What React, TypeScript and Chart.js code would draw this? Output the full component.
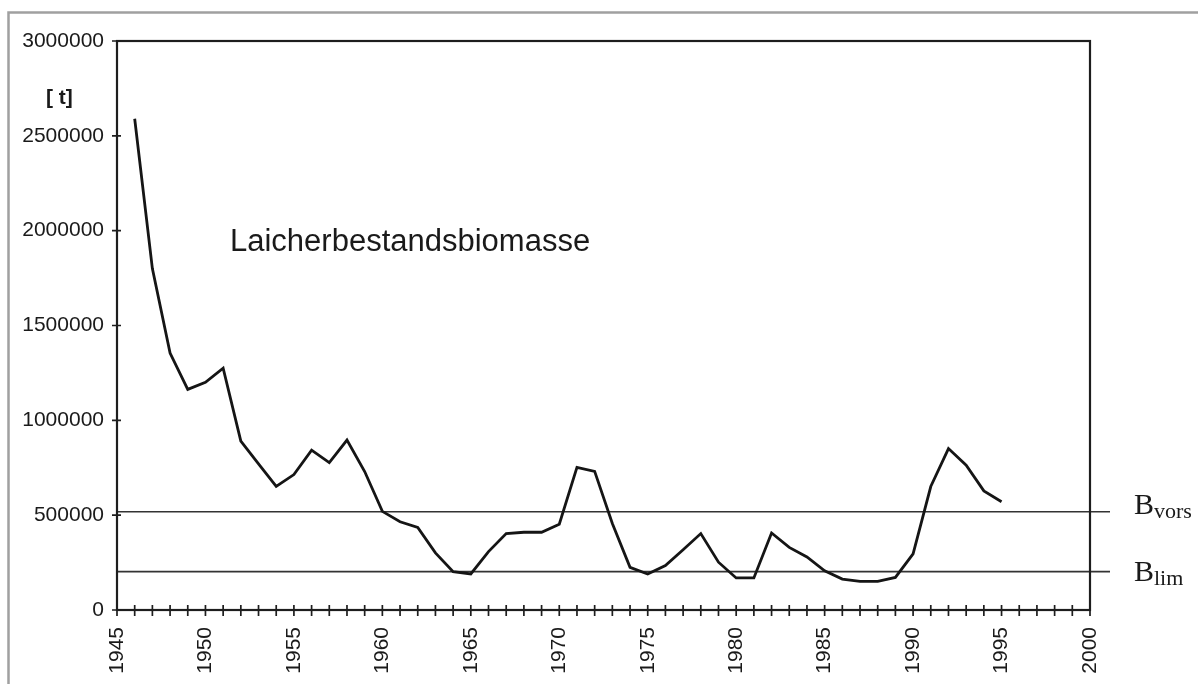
import React, { useEffect, useRef } from "react";
import { Chart, registerables } from "chart.js";

Chart.register(...registerables);

const years: number[] = [
  1946, 1947, 1948, 1949, 1950, 1951, 1952, 1953, 1954, 1955,
  1956, 1957, 1958, 1959, 1960, 1961, 1962, 1963, 1964, 1965,
  1966, 1967, 1968, 1969, 1970, 1971, 1972, 1973, 1974, 1975,
  1976, 1977, 1978, 1979, 1980, 1981, 1982, 1983, 1984, 1985,
  1986, 1987, 1988, 1989, 1990, 1991, 1992, 1993, 1994, 1995,
];

const biomass: number[] = [
  2590000, 1800000, 1355000, 1163000, 1200000, 1275000, 890000, 770000, 652000, 714000,
  843000, 777000, 896000, 730000, 520000, 465000, 435000, 301000, 202000, 190000,
  308000, 403000, 410000, 410000, 452000, 752000, 731000, 456000, 225000, 190000,
  234000, 318000, 403000, 252000, 169000, 169000, 406000, 330000, 280000, 207000,
  163000, 151000, 151000, 172000, 296000, 651000, 851000, 763000, 628000, 571000,
];

const refLevels: number[] = [518000, 202000];
const refMain: string[] = ["B", "B"];
const refSub: string[] = ["vors", "lim"];

const seriesTitle = "Laicherbestandsbiomasse";
const unitLabel = "[ t]";

const xMin = 1945;
const xMax = 2000;
const yMin = 0;
const yMax = 3000000;
const yStep = 500000;

const decorPlugin = {
  id: "decor",
  beforeDatasetsDraw(chart: any) {
    const { ctx, chartArea, scales } = chart;
    const xs = scales.x;
    const ys = scales.y;
    ctx.save();
    // outer gray frame
    ctx.strokeStyle = "#a0a0a0";
    ctx.lineWidth = 2.5;
    ctx.beginPath();
    ctx.moveTo(8.5, 684);
    ctx.lineTo(8.5, 12.5);
    ctx.lineTo(1198, 12.5);
    ctx.stroke();

    // reference lines
    ctx.strokeStyle = "#333";
    ctx.lineWidth = 1.7;
    refLevels.forEach((v) => {
      const yp = ys.getPixelForValue(v);
      ctx.beginPath();
      ctx.moveTo(chartArea.left, yp);
      ctx.lineTo(chartArea.right + 20, yp);
      ctx.stroke();
    });

    // plot box
    ctx.strokeStyle = "#1e1e1e";
    ctx.lineWidth = 2.2;
    ctx.strokeRect(chartArea.left, chartArea.top, chartArea.right - chartArea.left, chartArea.bottom - chartArea.top);

    // crossing ticks
    ctx.lineWidth = 1.7;
    ctx.beginPath();
    for (let yr = xMin; yr <= xMax; yr++) {
      const xp = xs.getPixelForValue(yr);
      ctx.moveTo(xp, chartArea.bottom - 5);
      ctx.lineTo(xp, chartArea.bottom + 6);
    }
    for (let v = yMin; v <= yMax; v += yStep) {
      const yp = ys.getPixelForValue(v);
      ctx.moveTo(chartArea.left - 5, yp);
      ctx.lineTo(chartArea.left + 4, yp);
    }
    ctx.stroke();
    ctx.restore();
  },
  afterDraw(chart: any) {
    const { ctx, chartArea, scales } = chart;
    const ys = scales.y;
    ctx.save();
    ctx.fillStyle = "#1a1a1a";
    ctx.textBaseline = "alphabetic";
    ctx.textAlign = "left";

    ctx.font = "bold 21px 'Liberation Sans', Arial, sans-serif";
    ctx.fillText(unitLabel, 46, 104);

    ctx.font = "31px 'Liberation Sans', Arial, sans-serif";
    ctx.fillText(seriesTitle, 230, 251);

    const offsets = [2, 9];
    refLevels.forEach((v, i) => {
      const yp = ys.getPixelForValue(v);
      const base = yp + offsets[i];
      const x0 = chartArea.right + 44;
      ctx.font = "30px 'Liberation Serif', 'Times New Roman', serif";
      ctx.fillText(refMain[i], x0, base);
      const w = ctx.measureText(refMain[i]).width;
      ctx.font = "22px 'Liberation Serif', 'Times New Roman', serif";
      ctx.fillText(refSub[i], x0 + w, base + 4);
    });
    ctx.restore();
  },
};

export default function App() {
  const canvasRef = useRef<HTMLCanvasElement | null>(null);

  useEffect(() => {
    const canvas = canvasRef.current;
    if (!canvas) return;
    const chart = new Chart(canvas, {
      type: "line",
      data: {
        datasets: [
          {
            label: seriesTitle,
            data: years.map((yr, i) => ({ x: yr, y: biomass[i] })),
            borderColor: "#151515",
            borderWidth: 2.8,
            pointRadius: 0,
            tension: 0,
            fill: false,
          },
        ],
      },
      options: {
        animation: false,
        responsive: false,
        maintainAspectRatio: false,
        layout: { padding: { top: 41, right: 108, left: 0, bottom: 0 } },
        plugins: {
          legend: { display: false },
          tooltip: { enabled: false },
          title: { display: false },
        },
        scales: {
          x: {
            type: "linear",
            min: xMin,
            max: xMax,
            border: { display: false },
            grid: { display: false, drawTicks: false },
            afterFit: (scale: any) => {
              scale.height = 74;
            },
            ticks: {
              stepSize: 1,
              autoSkip: false,
              maxRotation: 90,
              minRotation: 90,
              padding: 17,
              color: "#1a1a1a",
              font: { family: "'Liberation Sans', Arial, sans-serif", size: 21 },
              callback: (v: any) => (Number(v) % 5 === 0 ? String(v) : ""),
            },
          },
          y: {
            type: "linear",
            min: yMin,
            max: yMax,
            border: { display: false },
            grid: { display: false, drawTicks: false },
            afterFit: (scale: any) => {
              scale.width = 117;
            },
            ticks: {
              stepSize: yStep,
              padding: 13,
              color: "#1a1a1a",
              font: { family: "'Liberation Sans', Arial, sans-serif", size: 21 },
              callback: (v: any) => String(v),
            },
          },
        },
      },
      plugins: [decorPlugin],
    });
    return () => chart.destroy();
  }, []);

  return (
    <div style={{ position: "absolute", left: 0, top: 0, width: 1198, height: 684, background: "#fff" }}>
      <canvas ref={canvasRef} width={1198} height={684} style={{ display: "block" }} />
    </div>
  );
}
